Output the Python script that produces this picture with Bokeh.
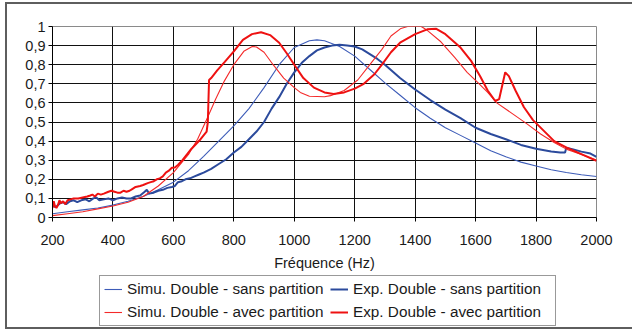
from bokeh.plotting import figure
from bokeh.models import FixedTicker, Legend, LegendItem, Range1d
from bokeh.layouts import column
from bokeh.embed import file_html
from bokeh.resources import INLINE

# ---- data ----
simu_sans_f = [200, 250, 300, 350, 400, 450, 500, 550, 600, 650, 700, 750, 800, 850, 900, 950,
               1000, 1050, 1075, 1100, 1150, 1200, 1250, 1300, 1350, 1400, 1450, 1500, 1550,
               1600, 1650, 1700, 1750, 1800, 1850, 1900, 1950, 2000]
simu_sans_v = [0.02, 0.03, 0.04, 0.05, 0.065, 0.085, 0.11, 0.145, 0.185, 0.245, 0.32, 0.40, 0.48,
               0.57, 0.68, 0.80, 0.89, 0.925, 0.93, 0.925, 0.895, 0.845, 0.775, 0.705, 0.64,
               0.575, 0.52, 0.47, 0.43, 0.39, 0.35, 0.318, 0.29, 0.27, 0.25, 0.236, 0.224, 0.215]

exp_sans_f = [200, 208, 215, 225, 235, 245, 258, 270, 282, 295, 310, 322, 335, 345, 355, 370,
              385, 400, 415, 430, 445, 460, 475, 490, 505, 512, 520, 535, 550, 565, 580, 595,
              605, 615, 628, 640, 655, 670, 685, 700, 725, 750, 775, 800, 825, 850, 875, 900,
              925, 950, 975, 1000, 1025, 1050, 1075, 1100, 1125, 1150, 1175, 1200, 1225, 1250,
              1275, 1300, 1350, 1400, 1450, 1500, 1550, 1600, 1650, 1700, 1750, 1800, 1850,
              1880, 1896, 1900, 1920, 1950, 1980, 2000]
exp_sans_v = [0.065, 0.055, 0.06, 0.075, 0.08, 0.07, 0.085, 0.09, 0.08, 0.09, 0.095, 0.085, 0.1,
              0.105, 0.09, 0.095, 0.1, 0.09, 0.1, 0.105, 0.1, 0.1, 0.11, 0.115, 0.135, 0.145,
              0.125, 0.13, 0.14, 0.145, 0.155, 0.16, 0.165, 0.185, 0.19, 0.2, 0.205, 0.215,
              0.225, 0.235, 0.255, 0.28, 0.305, 0.34, 0.37, 0.41, 0.45, 0.50, 0.57, 0.63, 0.70,
              0.76, 0.81, 0.845, 0.875, 0.89, 0.90, 0.904, 0.90, 0.895, 0.88, 0.855, 0.83, 0.80,
              0.73, 0.67, 0.615, 0.565, 0.52, 0.47, 0.437, 0.41, 0.38, 0.36, 0.345, 0.34, 0.34,
              0.365, 0.358, 0.345, 0.335, 0.318]

simu_avec_f = [200, 250, 300, 350, 400, 450, 500, 550, 600, 650, 680, 712, 740, 767, 800, 833,
               861, 875, 900, 930, 965, 1000, 1020, 1050, 1100, 1120, 1165, 1210, 1250, 1290,
               1320, 1353, 1375, 1420, 1440, 1485, 1530, 1572, 1605, 1640, 1670, 1725, 1770,
               1815, 1860, 1900, 1950, 2000]
simu_avec_v = [0.01, 0.02, 0.03, 0.045, 0.06, 0.08, 0.11, 0.165, 0.235, 0.33, 0.41, 0.52, 0.62,
               0.71, 0.80, 0.87, 0.895, 0.893, 0.865, 0.80, 0.73, 0.68, 0.655, 0.635, 0.632,
               0.638, 0.665, 0.72, 0.80, 0.88, 0.95, 0.99, 1.0, 1.0, 0.98, 0.92, 0.84, 0.76,
               0.71, 0.655, 0.60, 0.54, 0.49, 0.437, 0.393, 0.358, 0.33, 0.30]

exp_avec_f = [200, 204, 208, 213, 218, 223, 228, 235, 242, 250, 260, 270, 285, 300, 315, 325,
              332, 340, 350, 360, 370, 385, 395, 405, 415, 425, 435, 445, 455, 465, 475, 490,
              500, 515, 525, 535, 545, 555, 565, 575, 585, 595, 605, 615, 630, 645, 660, 675,
              690, 700, 710, 714, 718, 725, 745, 770, 800, 830, 860, 890, 920, 950, 975, 1000,
              1030, 1065, 1100, 1130, 1165, 1200, 1230, 1265, 1290, 1320, 1350, 1400, 1440,
              1470, 1500, 1550, 1585, 1615, 1640, 1665, 1678, 1698, 1710, 1732, 1760, 1790,
              1825, 1860, 1900, 1950, 2000]
exp_avec_v = [0.05, 0.085, 0.06, 0.05, 0.065, 0.09, 0.075, 0.085, 0.07, 0.09, 0.095, 0.1, 0.1,
              0.105, 0.11, 0.115, 0.12, 0.11, 0.125, 0.12, 0.125, 0.135, 0.14, 0.135, 0.13,
              0.13, 0.14, 0.135, 0.14, 0.15, 0.16, 0.165, 0.17, 0.18, 0.185, 0.19, 0.2, 0.205,
              0.215, 0.235, 0.245, 0.26, 0.262, 0.275, 0.3, 0.33, 0.36, 0.385, 0.41, 0.43,
              0.45, 0.5, 0.72, 0.73, 0.77, 0.815, 0.87, 0.93, 0.96, 0.97, 0.955, 0.915, 0.86,
              0.80, 0.73, 0.68, 0.655, 0.647, 0.655, 0.675, 0.70, 0.75, 0.80, 0.865, 0.915,
              0.96, 0.985, 0.988, 0.96, 0.89, 0.82, 0.74, 0.665, 0.61, 0.62, 0.76, 0.74, 0.665,
              0.577, 0.51, 0.455, 0.40, 0.367, 0.332, 0.297]

x_ticks = [200, 400, 600, 800, 1000, 1200, 1400, 1600, 1800, 2000]
y_ticks = [0, 0.1, 0.2, 0.3, 0.4, 0.5, 0.6, 0.7, 0.8, 0.9, 1.0]
y_tick_labels = ["0", "0,1", "0,2", "0,3", "0,4", "0,5", "0,6", "0,7", "0,8", "0,9", "1"]
x_label = "Fréquence (Hz)"
names = ["Simu. Double - sans partition", "Exp. Double - sans partition",
         "Simu. Double - avec partition", "Exp. Double - avec partition"]

FONT = "Liberation Sans"
series = [(simu_sans_f, simu_sans_v, "#3d5cb8", 1.1),
          (exp_sans_f, exp_sans_v, "#2b4a9c", 2),
          (simu_avec_f, simu_avec_v, "#f42a2a", 1.1),
          (exp_avec_f, exp_avec_v, "#ee1111", 2)]

# ---------------- main chart ----------------
p = figure(width=625, height=271, output_backend="svg", toolbar_location=None,
           x_range=Range1d(200, 2000), y_range=Range1d(0, 1),
           min_border_left=45, min_border_right=36, min_border_top=22, min_border_bottom=58)
p.background_fill_color = "white"
p.border_fill_color = "white"
p.outline_line_color = "#8a8a8a"
p.outline_line_width = 1

for ax in (p.xaxis[0], p.yaxis[0]):
    ax.axis_line_color = "black"
    ax.major_tick_line_color = "black"
    ax.major_tick_in = 0
    ax.major_tick_out = 4
    ax.minor_tick_line_color = None
    ax.major_label_text_font = FONT
    ax.major_label_text_font_size = "14.5px"
    ax.major_label_text_color = "#1a1a1a"

p.xaxis.ticker = FixedTicker(ticks=x_ticks)
p.yaxis.ticker = FixedTicker(ticks=y_ticks)
p.yaxis.major_label_overrides = {t: l for t, l in zip(y_ticks, y_tick_labels)}
p.xaxis.major_label_standoff = 13
p.yaxis.major_label_standoff = 3
p.xaxis.axis_label = x_label
p.xaxis.axis_label_text_font = FONT
p.xaxis.axis_label_text_font_size = "14.5px"
p.xaxis.axis_label_text_font_style = "normal"
p.xaxis.axis_label_text_color = "#1a1a1a"
p.xaxis.axis_label_standoff = 7

p.xgrid.ticker = FixedTicker(ticks=x_ticks)
p.ygrid.ticker = FixedTicker(ticks=y_ticks)
p.grid.grid_line_color = "#111111"
p.grid.grid_line_width = 1

for f, v, c, w in series:
    p.line(f, v, line_color=c, line_width=w)

# ---------------- legend strip ----------------
q = figure(width=625, height=52, output_backend="svg", toolbar_location=None,
           x_range=Range1d(0, 1), y_range=Range1d(0, 1),
           x_axis_location=None, y_axis_location=None,
           min_border_left=0, min_border_right=0, min_border_top=0, min_border_bottom=0)
q.grid.visible = False
q.outline_line_color = None
q.background_fill_color = "white"
q.border_fill_color = "white"

# same series, out of this strip's view range: only their legend glyphs show
rs = [q.line(f, v, line_color=c, line_width=w) for f, v, c, w in series]

legend = Legend(items=[LegendItem(label=n, renderers=[r]) for n, r in zip(names, rs)],
                location=(47, 1), orientation="horizontal", ncols=2,
                label_text_font=FONT, label_text_font_size="15.3px",
                label_text_color="#1a1a1a",
                glyph_width=18, glyph_height=16, label_height=16, label_width=198,
                label_standoff=5, spacing=5, padding=4, margin=0,
                border_line_color="#333333", border_line_width=1,
                background_fill_color="white", background_fill_alpha=1)
q.add_layout(legend)

layout = column(p, q, spacing=0)
layout.styles = {"margin-left": "5px", "margin-top": "2px",
                 "border-left": "2px solid #5e5e5e", "border-top": "2px solid #5e5e5e",
                 "border-bottom": "2px solid #5e5e5e"}

open("out.html", "w").write(file_html(layout, INLINE))
